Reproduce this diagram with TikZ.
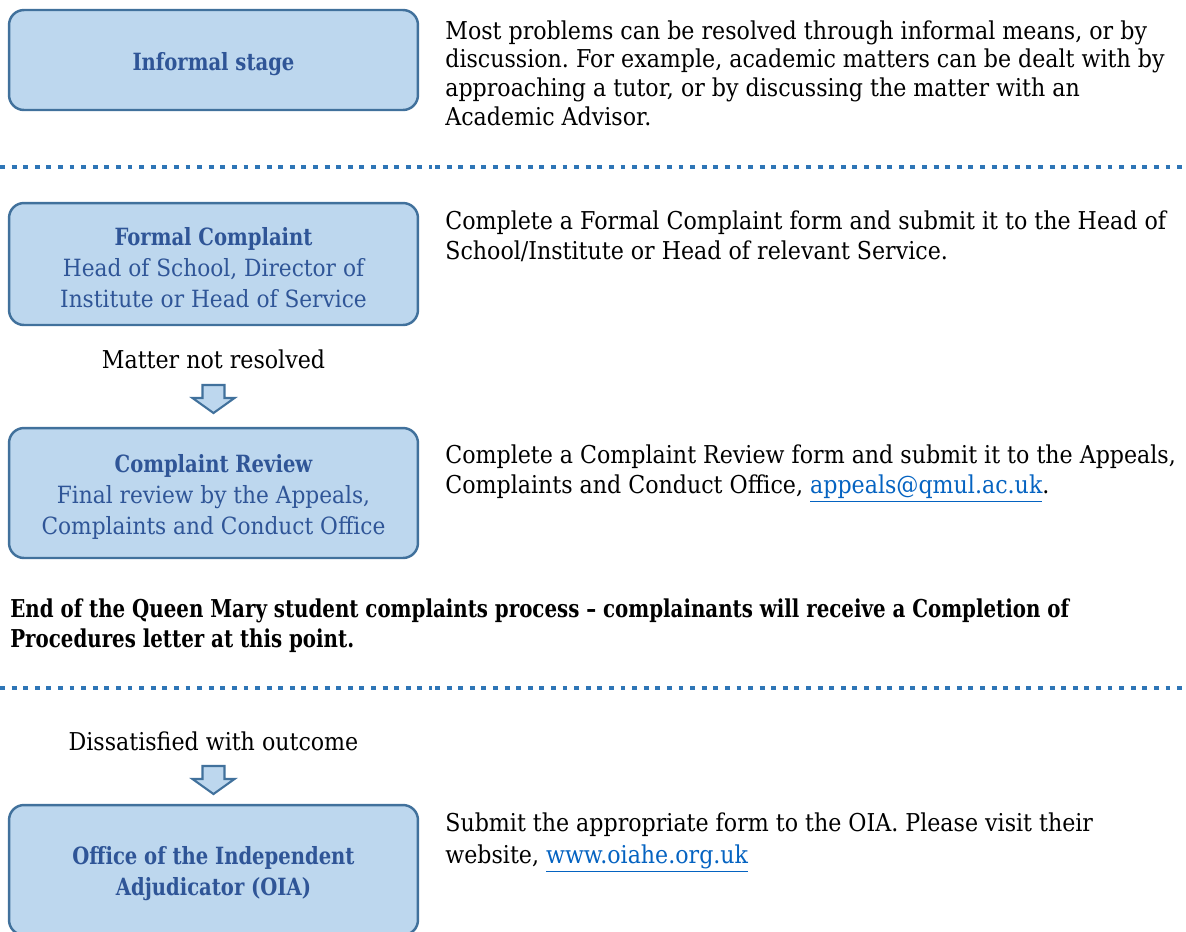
\documentclass[tikz,border=0pt]{standalone}
\usepackage{fontspec}
\usepackage{xcolor}
\setmainfont{DejaVu Serif}
\newfontfamily\boxfont[FakeStretch=0.915]{DejaVu Serif}
\newfontfamily\boxbold[FakeStretch=0.826]{DejaVu Serif}
\newfontfamily\bodyfont[FakeStretch=0.9]{DejaVu Serif}
\newfontfamily\endfont[FakeStretch=0.805]{DejaVu Serif}
\frenchspacing
\definecolor{boxfill}{HTML}{BDD7EE}
\definecolor{boxline}{HTML}{41719C}
\definecolor{boxtext}{HTML}{2F5597}
\definecolor{dotblue}{HTML}{2E75B6}
\definecolor{linkblue}{HTML}{0563C1}
\newcommand{\weblink}[1]{\textcolor{linkblue}{\underline{#1}}}
\newcommand{\stagetitle}[1]{{\rule{0pt}{14.8pt}\boxbold\bfseries #1}}
\tikzset{
    stagebox/.style={draw=boxline,fill=boxfill,line width=1.4pt,rounded corners=8.5pt,
        minimum width=8.18cm,align=center,text=boxtext,
        font=\boxfont\fontsize{13.5}{17.6}\selectfont},
    infotext/.style={anchor=north west,align=left,inner sep=0pt,
        font=\bodyfont\fontsize{14}{17.6}\selectfont},
    steplabel/.style={inner sep=0pt,font=\bodyfont\fontsize{14}{17.6}\selectfont},
    divider/.style={dotblue,line width=2.7pt,dash pattern=on 2.8pt off 3.8pt},
    downarrow/.style={draw=boxline,fill=boxfill,line width=1.2pt,line join=miter}
}
\begin{document}
\begin{tikzpicture}[x=0.02cm,y=-0.02cm]
    \useasboundingbox (0,0) rectangle (1186,931);
    \def\boxX{213.5}
    \def\textX{445}

    % Stages
    \node[stagebox,minimum height=2cm] (informal) at (\boxX,60) {\stagetitle{Informal stage}};
    \node[stagebox,minimum height=2.44cm] (formal) at (\boxX,264) {\stagetitle{Formal Complaint}\\Head of School, Director of\\Institute or Head of Service};
    \node[stagebox,minimum height=2.6cm] (review) at (\boxX,493) {\stagetitle{Complaint Review}\\Final review by the Appeals,\\Complaints and Conduct Office};
    \node[stagebox,minimum height=2.6cm] (oia) at (\boxX,870) {\stagetitle{Office of the Independent}\\{\boxbold\bfseries Adjudicator (OIA)}};

    % Explanations
    \node[infotext,font=\bodyfont\fontsize{14}{16.4}\selectfont] (informaltext) at (\textX,20) {Most problems can be resolved through informal means, or by\\discussion. For example, academic matters can be dealt with by\\approaching a tutor, or by discussing the matter with an\\Academic Advisor.};
    \node[infotext] (formaltext) at (\textX,210) {Complete a Formal Complaint form and submit it to the Head of\\School/Institute or Head of relevant Service.};
    \node[infotext] (reviewtext) at (\textX,444) {Complete a Complaint Review form and submit it to the Appeals,\\Complaints and Conduct Office, \weblink{appeals@qmul.ac.uk}.};
    \node[infotext,font=\bodyfont\fontsize{14}{18.7}\selectfont] (oiatext) at (\textX,812) {Submit the appropriate form to the OIA. Please visit their\\website, \weblink{www.oiahe.org.uk}};
    \node[infotext,font=\endfont\bfseries\fontsize{14}{17.6}\selectfont] (endtext) at (10,598) {End of the Queen Mary student complaints process – complainants will receive a Completion of\\Procedures letter at this point.};

    % Dividers
    \foreach \yLine in {167,688} {
            \draw[divider] (0,\yLine) -- (432,\yLine);
            \draw[divider] (435,\yLine) -- (1186,\yLine);
        }

    % Escalation
    \node[steplabel] (notresolved) at (\boxX,359) {Matter not resolved};
    \node[steplabel] (dissatisfied) at (\boxX,741) {Dissatisfied with outcome};
    \foreach \yTop in {385,766} {
            \draw[downarrow,shift={(\boxX,\yTop)}] (-11,0) -- (11,0) -- (11,13) -- (21,13) -- (0,28) -- (-21,13) -- (-11,13) -- cycle;
        }
\end{tikzpicture}
\end{document}
